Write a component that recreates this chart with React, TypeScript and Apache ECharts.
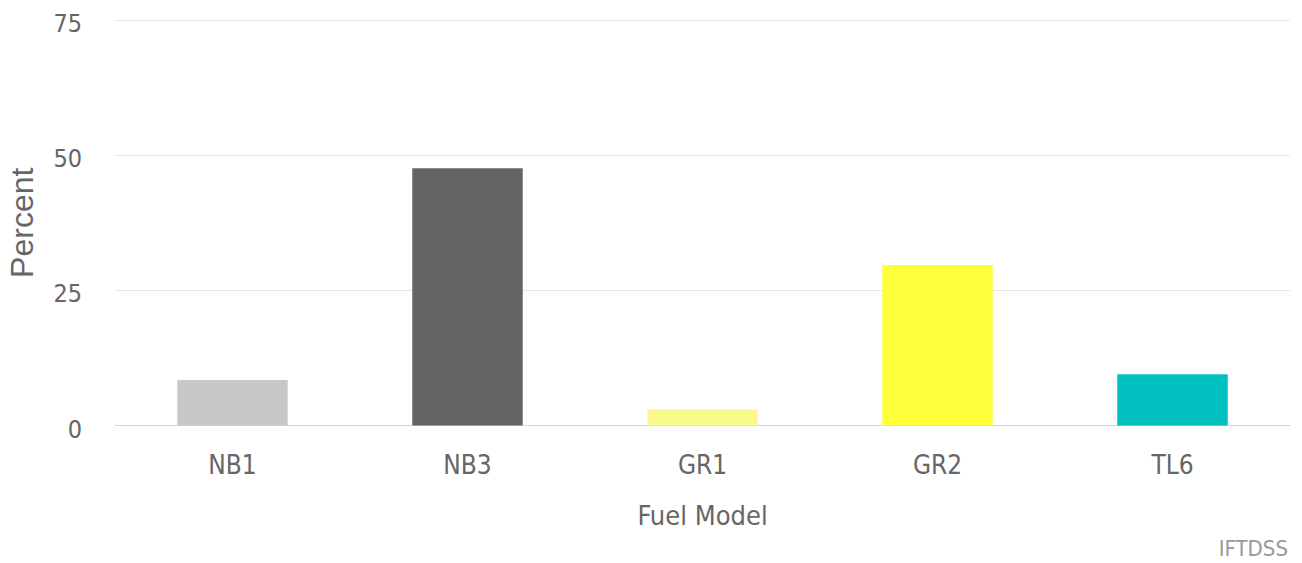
import React, { useEffect, useRef } from "react";
import * as echarts from "echarts";

const categories = ["NB1", "NB3", "GR1", "GR2", "TL6"];
const percentValues = [8.4, 47.6, 3.0, 29.7, 9.5];
const barColors = ["#c8c8c8", "#646464", "#fafa8a", "#ffff3c", "#00c0c0"];
const yTicks = [0, 25, 50, 75];

const NARROW = '"Liberation Sans Narrow", "DejaVu Sans Condensed", "Liberation Sans", sans-serif';

export default function App() {
  const ref = useRef<HTMLDivElement>(null);
  useEffect(() => {
    if (!ref.current) return;
    const chart = echarts.init(ref.current, undefined, { renderer: "svg" });
    chart.setOption({
      animation: false,
      backgroundColor: "#ffffff",
      grid: {
        left: 115,
        right: 12,
        top: 20,
        bottom: 137.5,
        containLabel: false,
        outerBoundsMode: "none",
      },
      xAxis: {
        type: "category",
        data: categories,
        axisLine: { show: true, lineStyle: { color: "#ccd6eb", width: 1 } },
        axisTick: { show: false },
        axisLabel: { color: "#666666", fontFamily: NARROW, fontSize: 26, margin: 26 },
        name: "Fuel Model",
        nameLocation: "middle",
        nameGap: 76,
        nameTextStyle: { color: "#666666", fontFamily: NARROW, fontSize: 27 },
      },
      yAxis: {
        type: "value",
        min: yTicks[0],
        max: yTicks[yTicks.length - 1],
        interval: 25,
        axisLine: { show: false },
        axisTick: { show: false },
        splitLine: { lineStyle: { color: "#e6e6e6", width: 1 } },
        axisLabel: {
          color: "#666666",
          fontFamily: NARROW,
          fontSize: 25,
          margin: 33,
          formatter: "{v|{value}}",
          rich: {
            v: {
              color: "#666666",
              fontFamily: NARROW,
              fontSize: 25,
              padding: [7, 0, 0, 0],
            },
          },
        },
        name: "Percent",
        nameLocation: "middle",
        nameGap: 77,
        nameRotate: 90,
        nameTextStyle: {
          color: "#666666",
          fontFamily: '"Liberation Sans", Arial, sans-serif',
          fontSize: 32,
        },
      },
      series: [
        {
          type: "bar",
          barWidth: "47%",
          data: percentValues.map((v, i) => ({ value: v, itemStyle: { color: barColors[i] } })),
        },
      ],
      graphic: [
        {
          type: "text",
          right: 14,
          bottom: 4,
          style: {
            text: "IFTDSS",
            fill: "#999999",
            font: `22px ${NARROW}`,
          },
        },
      ],
    });
    return () => chart.dispose();
  }, []);
  return (
    <div
      ref={ref}
      style={{ position: "absolute", left: 0, top: 0, width: 1302, height: 563 }}
    />
  );
}
